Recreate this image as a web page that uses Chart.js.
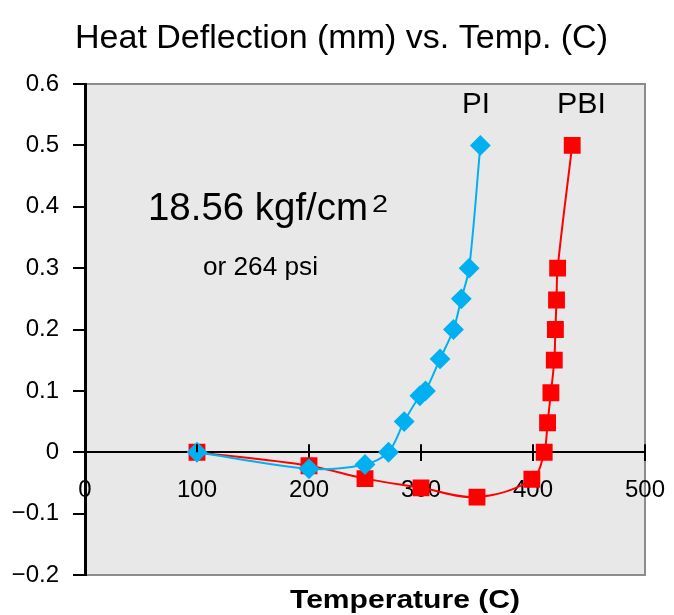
<!DOCTYPE html>
<html>
<head>
<meta charset="utf-8">
<script src="https://cdn.jsdelivr.net/npm/chart.js@4/dist/chart.umd.min.js"></script>
<style>
html,body{margin:0;padding:0;background:#fff;}
#wrap{width:674px;height:615px;position:relative;}
</style>
</head>
<body>
<div id="wrap"><canvas id="c" width="674" height="615"></canvas></div>
<script>
const chartTitle = "Heat Deflection (mm) vs. Temp. (C)";
const xAxisTitle = "Temperature (C)";
const piTemp = [100, 200, 250, 271, 285, 299, 304, 317, 329, 336, 343, 353];
const piDefl = [0, -0.027, -0.020, 0, 0.05, 0.092, 0.1, 0.152, 0.2, 0.25, 0.3, 0.5];
const pbiTemp = [100, 200, 250, 300, 350, 399, 410, 413, 416, 419, 420, 421, 422, 435];
const pbiDefl = [0, -0.022, -0.043, -0.058, -0.073, -0.044, 0, 0.048, 0.097, 0.15, 0.2, 0.248, 0.3, 0.5];
const xTickLabels = ["0", "100", "200", "300", "400", "500"];
const yTickLabels = ["\u22120.2", "\u22120.1", "0", "0.1", "0.2", "0.3", "0.4", "0.5", "0.6"];
const seriesNames = ["PI", "PBI"];
const loadMain = "18.56 kgf/cm";
const loadSup = "2";
const loadAlt = "or 264 psi";

const FONT = "'Liberation Sans', Arial, sans-serif";

const toPts = (xs, ys) => xs.map((x, i) => ({x: x, y: ys[i]}));

// draw text left-aligned at x, squeezed/stretched horizontally to a target width
function textW(ctx, txt, x, y, width) {
  const w = ctx.measureText(txt).width;
  ctx.save();
  ctx.translate(x, y);
  ctx.scale(width / w, 1);
  ctx.textAlign = 'left';
  ctx.fillText(txt, 0, 0);
  ctx.restore();
}

const decor = {
  id: 'decor',
  beforeDraw(chart) {
    const {ctx, chartArea: a} = chart;
    ctx.save();
    ctx.fillStyle = '#e8e8e8';
    ctx.fillRect(a.left, a.top, a.right - a.left, a.bottom - a.top);
    ctx.strokeStyle = '#8c8c8c';
    ctx.lineWidth = 2;
    ctx.beginPath();
    ctx.moveTo(a.left, a.top); ctx.lineTo(a.right, a.top);
    ctx.lineTo(a.right, a.bottom); ctx.lineTo(a.left, a.bottom);
    ctx.stroke();
    ctx.restore();
  },
  afterDatasetsDraw(chart) {
    const {ctx, scales} = chart;
    const xs = scales.x, ys = scales.y;
    ctx.save();
    const y0 = ys.getPixelForValue(0);
    ctx.strokeStyle = '#000';
    ctx.lineWidth = 2;
    xs.ticks.forEach(t => {
      if (t.value === 0) return;
      const px = xs.getPixelForValue(t.value);
      ctx.beginPath(); ctx.moveTo(px, y0 - 8); ctx.lineTo(px, y0); ctx.stroke();
    });
    ctx.fillStyle = '#000';
    ctx.textBaseline = 'alphabetic';
    ctx.font = "29px " + FONT;
    textW(ctx, seriesNames[0], 462, 113, 28);
    textW(ctx, seriesNames[1], 557, 113, 49);
    ctx.font = "39px " + FONT;
    textW(ctx, loadMain, 148, 220, 220);
    ctx.font = "23px " + FONT;
    textW(ctx, loadSup, 372, 212, 16);
    ctx.font = "25px " + FONT;
    textW(ctx, loadAlt, 203, 275, 115);
    ctx.font = "33px " + FONT;
    textW(ctx, chartTitle, 75, 48, 533);
    ctx.font = "bold 25px " + FONT;
    textW(ctx, xAxisTitle, 290, 608, 230);
    ctx.restore();
  }
};

new Chart(document.getElementById('c'), {
  type: 'scatter',
  data: {
    datasets: [
      {
        label: seriesNames[0],
        data: toPts(piTemp, piDefl),
        showLine: true,
        borderColor: '#00b0f0',
        backgroundColor: '#00b0f0',
        borderWidth: 2,
        pointStyle: 'rectRot',
        pointRadius: 9,
        pointHoverRadius: 9,
        tension: 0.3
      },
      {
        label: seriesNames[1],
        data: toPts(pbiTemp, pbiDefl),
        showLine: true,
        borderColor: '#ff0000',
        backgroundColor: '#ff0000',
        borderWidth: 2,
        pointStyle: 'rect',
        pointRadius: 10.5,
        pointHoverRadius: 10.5,
        tension: 0.35
      }
    ]
  },
  options: {
    responsive: false,
    animation: false,
    clip: false,
    layout: {padding: {left: 0, top: 84, right: 29, bottom: 40}},
    plugins: {legend: {display: false}, tooltip: {enabled: false}, title: {display: false}},
    scales: {
      x: {
        type: 'linear',
        position: {y: 0},
        min: 0, max: 500,
        afterFit(s) { s.height = 0; s.paddingLeft = 0; s.paddingRight = 0; },
        ticks: {
          stepSize: 100,
          autoSkip: false,
          maxRotation: 0,
          color: '#000',
          padding: 16,
          font: {size: 24, family: FONT},
          callback: (v, i) => xTickLabels[i]
        },
        grid: {display: true, drawOnChartArea: false, drawTicks: true, tickLength: 8, color: '#000', lineWidth: 2},
        border: {display: true, color: '#000', width: 2}
      },
      y: {
        type: 'linear',
        position: 'left',
        min: -0.2, max: 0.6,
        afterFit(s) { s.width = 85; s.paddingTop = 0; s.paddingBottom = 0; },
        ticks: {
          stepSize: 0.1,
          autoSkip: false,
          color: '#000',
          padding: 14,
          font: {size: 24, family: FONT},
          callback: (v, i) => yTickLabels[i]
        },
        grid: {display: true, drawOnChartArea: false, drawTicks: true, tickLength: 12, color: '#000', lineWidth: 2},
        border: {display: true, color: '#000', width: 3}
      }
    }
  },
  plugins: [decor]
});
</script>
</body>
</html>
